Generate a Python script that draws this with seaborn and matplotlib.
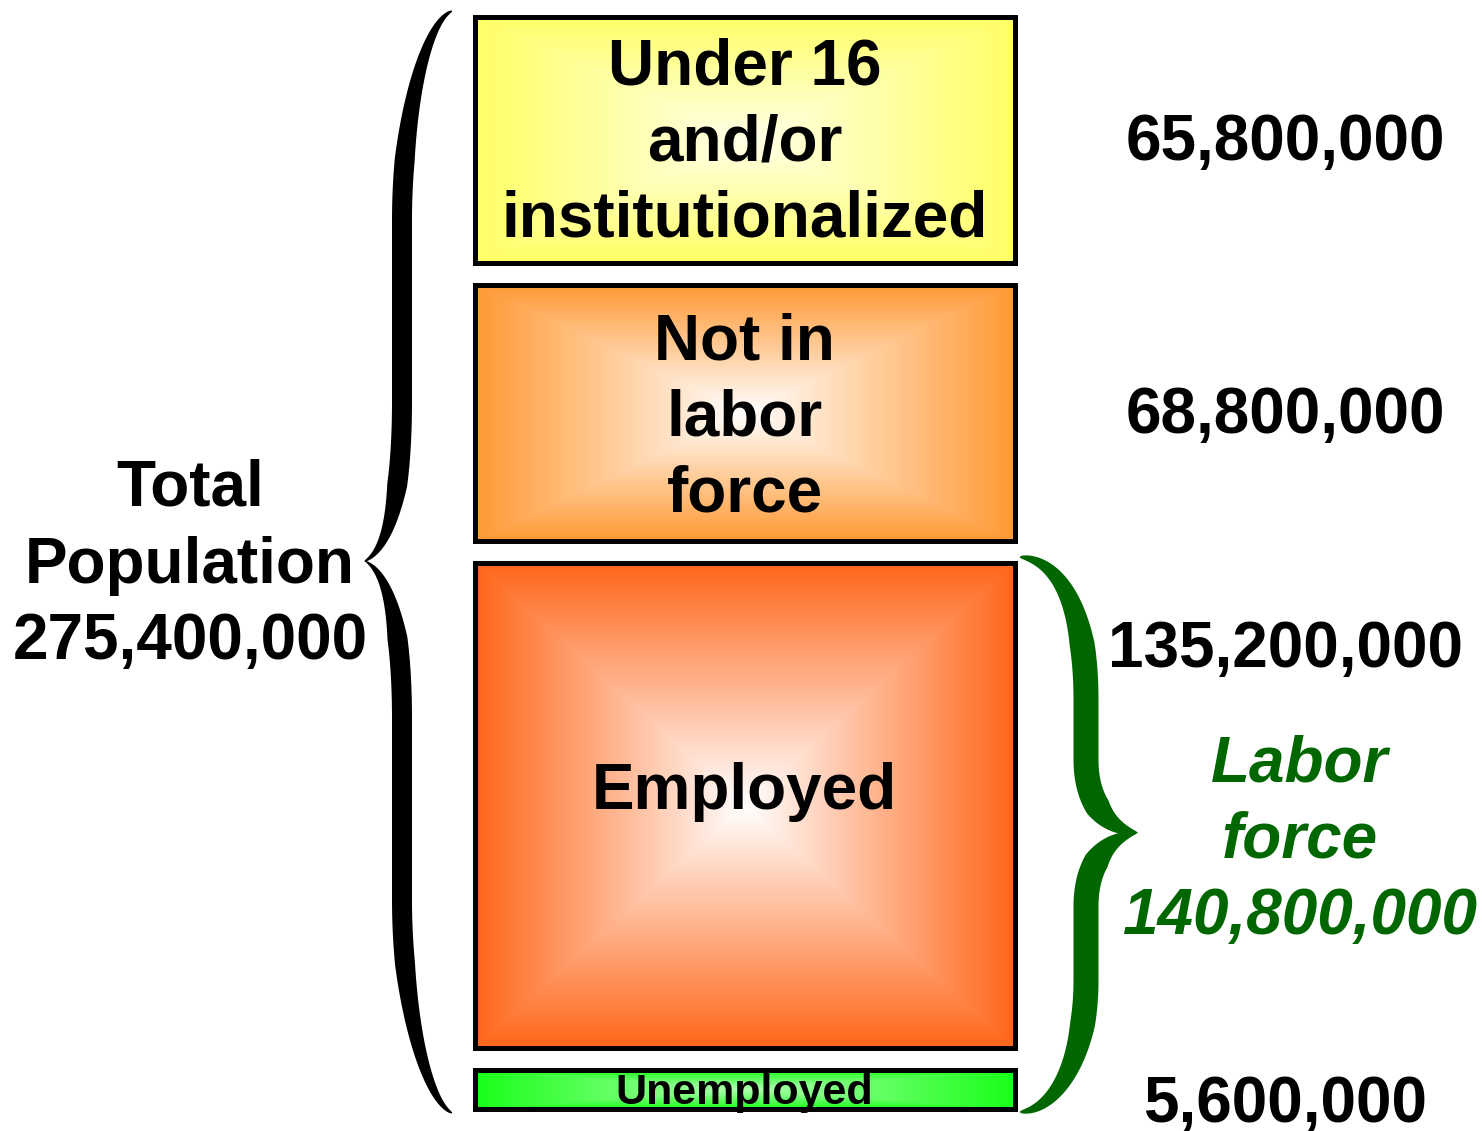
import numpy as np
import matplotlib
matplotlib.use("Agg")
import matplotlib.pyplot as plt
import seaborn as sns

# ---------------- data ----------------
categories = ["Under 16\nand/or\ninstitutionalized", "Not in\nlabor\nforce", "Employed", "Unemployed"]
values_millions = [65.8, 68.8, 135.2, 5.6]
value_labels = ["65,800,000", "68,800,000", "135,200,000", "5,600,000"]
edge_colors = ["#FFFF66", "#FF9933", "#FF6619", "#19FF19"]
center_colors = ["#FFFFE8", "#FFFFFF", "#FFFFFF", "#B0FFB0"]
total_label = ["Total", "Population", "275,400,000"]
labor_label = ["Labor", "force", "140,800,000"]

# ---------------- style ----------------
sns.set_theme(style="white")
plt.rcParams["font.family"] = ["Liberation Sans", "DejaVu Sans"]

W, H = 1482, 1131
fig = plt.figure(figsize=(W / 100, H / 100), dpi=100)
ax = fig.add_axes([0, 0, 1, 1])
ax.set_xlim(0, W)
ax.set_ylim(H, 0)
ax.axis("off")

# layout (pixel-like axis units): box height = pad + scale * value
scale = 3.444         # px per million
pad = 19.4            # constant padding per box
gap = 22
left, width = 474.5, 540
top0 = 16.5

tops, heights = [], []
y = top0
for v in values_millions:
    h = pad + v * scale
    tops.append(y)
    heights.append(h)
    y += h + gap

bars = ax.bar([left] * 4, heights, bottom=tops, width=width, align="edge",
              facecolor="none", edgecolor="black", linewidth=3.6, zorder=4)


def hex2rgb(c):
    c = c.lstrip("#")
    return np.array([int(c[i:i + 2], 16) / 255 for i in (0, 2, 4)])


for top, h, ec, cc in zip(tops, heights, edge_colors, center_colors):
    nx, ny = 400, 300
    U, V = np.meshgrid(np.linspace(-1, 1, nx), np.linspace(-1, 1, ny))
    t = np.maximum(np.abs(U), np.abs(V))[..., None]
    img = hex2rgb(cc) * (1 - t) + hex2rgb(ec) * t
    ax.imshow(img, extent=(left, left + width, top + h, top), aspect="auto",
              interpolation="bilinear", zorder=2)

ax.set_xlim(0, W)
ax.set_ylim(H, 0)

# ---------------- box labels ----------------
pitch = 76
label_offsets = [21, 23, 4, 15]
for i, (lab, top, h) in enumerate(zip(categories, tops, heights)):
    cy = top + h / 2
    lines = lab.split("\n")
    n = len(lines)
    fs = 31 if i == 3 else 46
    for j, line in enumerate(lines):
        by = cy + label_offsets[i] + (j - (n - 1) / 2) * pitch
        ax.text(left + width / 2, by, line, ha="center", va="baseline",
                fontsize=fs, fontweight="bold", color="black", zorder=5)

# ---------------- value labels ----------------
vx = 1285
val_y = [tops[0] + heights[0] / 2 + 20,
         tops[1] + heights[1] / 2 + 20,
         tops[2] + 104,
         tops[3] + heights[3] / 2 + 33]
for lab, vy in zip(value_labels, val_y):
    ax.text(vx, vy, lab, ha="center", va="baseline", fontsize=46,
            fontweight="bold", color="black", zorder=5)


# ---------------- braces ----------------
def bez(p0, p1, p2, p3, n=80):
    t = np.linspace(0, 1, n)[:, None]
    p0, p1, p2, p3 = map(np.array, (p0, p1, p2, p3))
    return (1 - t) ** 3 * p0 + 3 * (1 - t) ** 2 * t * p1 + 3 * (1 - t) * t ** 2 * p2 + t ** 3 * p3


def line(p0, p1, n=40):
    t = np.linspace(0, 1, n)[:, None]
    return (1 - t) * np.array(p0) + t * np.array(p1)


def brace(ax, segs, wmax, color, wend=1.0, wtip=1.0, rise_len=0.28):
    pts = np.vstack(segs)
    keep = np.r_[True, np.any(np.diff(pts, axis=0) != 0, axis=1)]
    pts = pts[keep]
    d = np.r_[0, np.cumsum(np.hypot(*np.diff(pts, axis=0).T))]
    s = d / d[-1]
    e = np.minimum(s, 1 - s) / 0.5  # 0 at ends, 1 at tip
    rise = np.clip(e / rise_len, 0, 1) ** 0.6
    fall = np.clip((1 - e) / 0.15, 0, 1) ** 0.8
    w = wend + (wmax - wend) * rise * fall
    w = np.maximum(w, np.where(e > 0.5, wtip, wend))
    tang = np.gradient(pts, axis=0)
    tang /= np.hypot(tang[:, 0], tang[:, 1])[:, None]
    nrm = np.c_[-tang[:, 1], tang[:, 0]]
    a = pts + nrm * w[:, None] / 2
    b = pts - nrm * w[:, None] / 2
    poly = np.vstack([a, b[::-1]])
    ax.fill(poly[:, 0], poly[:, 1], color=color, lw=0, zorder=3)


# left black brace (points left)
brace(ax, [
    bez((452, 11), (425, 22), (402, 120), (402, 220)),
    line((402, 220), (402, 400)),
    bez((402, 400), (402, 490), (390, 548), (365, 561)),
    bez((365, 561), (390, 574), (402, 632), (402, 720)),
    line((402, 720), (402, 900)),
    bez((402, 900), (402, 1000), (425, 1100), (452, 1113)),
], wmax=20, color="black")

# right green brace (points right)
brace(ax, [
    bez((1020, 557), (1055, 560), (1086, 600), (1086, 700)),
    line((1086, 700), (1086, 760)),
    bez((1086, 760), (1086, 800), (1105, 828), (1137, 833)),
    bez((1137, 833), (1105, 838), (1086, 866), (1086, 906)),
    line((1086, 906), (1086, 980)),
    bez((1086, 980), (1086, 1060), (1055, 1110), (1020, 1112)),
], wmax=25, color="#006600", rise_len=0.35)

# ---------------- side labels ----------------
for j, line_txt in enumerate(total_label):
    ax.text(190, 506 + j * 76.5, line_txt, ha="center", va="baseline",
            fontsize=46, fontweight="bold", color="black", zorder=5)

for j, line_txt in enumerate(labor_label):
    ax.text(1300, 782 + j * 76, line_txt, ha="center", va="baseline",
            fontsize=46, fontweight="bold", fontstyle="italic",
            color="#006600", zorder=5)

fig.savefig("out.png", dpi=100, facecolor="white")
